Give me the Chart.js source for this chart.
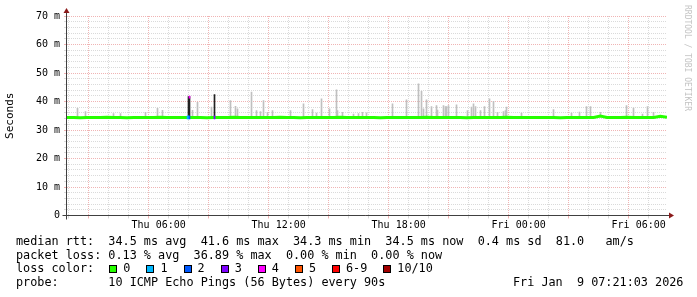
<!DOCTYPE html>
<html><head><meta charset="utf-8">
<script src="https://cdn.jsdelivr.net/npm/chart.js@4.4.1/dist/chart.umd.min.js"></script>
<style>
html,body{margin:0;padding:0;background:#fff;width:697px;height:297px;overflow:hidden;}
#wrap{position:relative;width:697px;height:297px;}
canvas{position:absolute;left:0;top:0;}
.t{position:absolute;left:16px;font-family:'DejaVu Sans Mono',monospace;font-size:11.8px;line-height:14px;white-space:pre;color:#000;}
.box{display:inline-block;width:6px;height:6px;border:1px solid #000;margin:0 6px 0 1px;vertical-align:-1px;}
.lbl{margin-right:15px;}
#rrd{position:absolute;left:692px;top:5px;transform:rotate(90deg);transform-origin:0 0;font-family:'DejaVu Sans Mono',monospace;font-size:8px;line-height:10px;color:#c4c4c4;white-space:pre;}
</style></head>
<body><div id="wrap">
<canvas id="c" width="697" height="297"></canvas>
<div class="t" style="top:234px">median rtt:  34.5 ms avg  41.6 ms max  34.3 ms min  34.5 ms now  0.4 ms sd  81.0   am/s</div>
<div class="t" style="top:247.5px">packet loss: 0.13 % avg  36.89 % max  0.00 % min  0.00 % now</div>
<div class="t" id="losscolor" style="top:261px">loss color:  </div>
<div class="t" style="top:275px">probe:       10 ICMP Echo Pings (56 Bytes) every 90s</div>
<div class="t" style="top:275px;left:513px">Fri Jan  9 07:21:03 2026</div>
<div id="rrd">RRDTOOL / TOBI OETIKER</div>
</div>
<script>
// ---- axis / labels ----
const xMin = 85, xMax = 1885;               // minutes since Thu 00:00
const xLabelTimes = [360, 720, 1080, 1440, 1800];
const xLabelTexts = ['Thu 06:00', 'Thu 12:00', 'Thu 18:00', 'Fri 00:00', 'Fri 06:00'];
const yLabelValues = [0, 10, 20, 30, 40, 50, 60, 70];
const yLabelTexts = ['0', '10 m', '20 m', '30 m', '40 m', '50 m', '60 m', '70 m'];

// ---- loss legend ----
const lossLabels = ['0', '1', '2', '3', '4', '5', '6-9', '10/10'];
const lossColors = ['#26ff00', '#00b8ff', '#0059ff', '#7e00ff', '#ff00ff', '#ff5500', '#ff0000', '#a10000'];

// ---- median rtt (ms), one sample every 20 min from xMin ----
const medianStep = 20;
const medianValues = [
  34.4,34.4,34.3,34.4,34.4,34.4,34.5,34.4,34.4,34.3,
  34.4,34.4,34.4,34.4,34.5,34.4,34.4,34.4,34.4,34.4,
  34.4,34.3,34.4,34.4,34.4,34.5,34.4,34.4,34.4,34.4,
  34.4,34.4,34.5,34.4,34.4,34.3,34.4,34.4,34.4,34.4,
  34.4,34.5,34.4,34.4,34.4,34.4,34.4,34.3,34.4,34.4,
  34.4,34.4,34.4,34.4,34.5,34.4,34.4,34.4,34.4,34.4,
  34.3,34.4,34.4,34.4,34.4,34.4,34.5,34.4,34.4,34.4,
  34.4,34.4,34.4,34.4,34.3,34.4,34.4,34.4,34.4,34.4,
  34.9,34.4,34.4,34.4,34.5,34.4,34.4,34.4,34.4,34.8,
  34.5
];

// ---- smoke (max ping rtt spikes above median) ----
const smokeBase = 34.6;
const smokeTimes = [116.5,140.5,224.5,245.5,320.5,356.5,371.5,461.5,476.5,518.5,
  575.5,590.5,596.5,638.5,653.5,665.5,674.5,686.5,701.5,755.5,
  794.5,821.5,833.5,848.5,872.5,893.5,896.5,911.5,944.5,959.5,
  971.5,983.5,1061.5,1103.5,1139.5,1148.5,1154.5,1163.5,1178.5,1193.5,
  1196.5,1214.5,1220.5,1223.5,1229.5,1253.5,1286.5,1298.5,1304.5,1310.5,
  1325.5,1337.5,1352.5,1364.5,1376.5,1394.5,1400.5,1403.5,1448.5,1544.5,
  1598.5,1622.5,1643.5,1655.5,1685.5,1763.5,1784.5,1811.5,1826.5,1844.5];
const smokeTops = [37.6,36.5,35.8,35.8,36.2,37.6,36.9,36.9,39.7,38.0,
  40.3,38.3,37.4,43.3,36.8,36.5,40.3,36.2,36.8,36.8,
  39.2,37.2,35.9,40.9,37.4,44.1,36.8,36.2,35.6,35.8,
  36.2,36.0,39.2,40.6,46.2,43.6,37.4,40.6,38.2,38.6,
  37.0,38.6,38.2,38.2,38.6,38.8,36.8,38.0,39.2,38.2,
  36.8,38.2,40.9,40.1,36.2,36.5,36.8,38.0,35.9,37.2,
  35.9,36.3,38.2,38.2,36.2,38.6,37.7,35.6,38.2,36.2];

// ---- dark spikes (median jumps with loss) ----
const darkTimes = [449.5, 452.5, 527.5];
const darkTops = [41.7, 41.7, 42.4];

// ---- loss coloured median fragments ----
const lossTimes = [446.5, 449.5, 452.5, 452.5, 527.5];
const lossLows  = [33.9, 33.9, 33.9, 41.2, 33.9];
const lossHighs = [34.9, 35.0, 34.9, 41.9, 35.0];
const lossLevels = [1, 1, 2, 4, 3];

// build loss legend
const lc = document.getElementById('losscolor');
lossLabels.forEach((l, i) => {
  const b = document.createElement('span'); b.className = 'box'; b.style.background = lossColors[i]; lc.appendChild(b);
  const s = document.createElement('span'); s.className = 'lbl'; s.textContent = l; lc.appendChild(s);
});

const MINOR = '#dadada', MAJOR = '#f0b4b4';
const hourTicks = []; for (let t = 120; t <= 1860; t += 60) hourTicks.push(t);
const yTicks = []; for (let v = 0; v <= 70; v += 2) yTicks.push(v);

const axisPlugin = {
  id: 'rrdAxes',
  afterDatasetsDraw(chart) {
    const {ctx, chartArea: a} = chart;
    const yb = Math.round(a.bottom - 0.5) + 0.5;
    const xl = Math.round(a.left) - 0.5;
    ctx.save();
    ctx.strokeStyle = '#404040'; ctx.lineWidth = 1;
    ctx.beginPath();
    ctx.moveTo(xl - 4, yb); ctx.lineTo(a.right + 2, yb);
    ctx.moveTo(xl, yb + 4); ctx.lineTo(xl, a.top - 3);
    ctx.stroke();
    ctx.fillStyle = '#8b1a1a';
    ctx.beginPath();
    ctx.moveTo(a.right + 2, yb - 3); ctx.lineTo(a.right + 7, yb); ctx.lineTo(a.right + 2, yb + 3); ctx.closePath(); ctx.fill();
    ctx.beginPath();
    ctx.moveTo(xl - 3, a.top - 3); ctx.lineTo(xl, a.top - 8); ctx.lineTo(xl + 3, a.top - 3); ctx.closePath(); ctx.fill();
    ctx.restore();
  }
};

new Chart(document.getElementById('c'), {
  type: 'line',
  data: {
    datasets: [
      {
        type: 'bar', order: 4, stack: 's',
        data: smokeTimes.map((t, i) => ({x: t, y: [smokeBase, smokeTops[i]]})),
        backgroundColor: '#c0c0c0', borderWidth: 0, barThickness: 1
      },
      {
        type: 'bar', order: 3, stack: 's',
        data: darkTimes.map((t, i) => ({x: t, y: [smokeBase, darkTops[i]]})),
        backgroundColor: '#222222', borderWidth: 0, barThickness: 1
      },
      {
        type: 'line', order: 2,
        data: medianValues.map((v, i) => ({x: xMin + i * medianStep, y: v})),
        borderColor: lossColors[0], borderWidth: 3, pointRadius: 0, tension: 0, fill: false
      },
      {
        type: 'bar', order: 1, stack: 's',
        data: lossTimes.map((t, i) => ({x: t, y: [lossLows[i], lossHighs[i]]})),
        backgroundColor: lossLevels.map(l => lossColors[l]), borderWidth: 0, barThickness: 1
      }
    ]
  },
  options: {
    responsive: false, animation: false, devicePixelRatio: 1,
    layout: {padding: {top: 16, right: 30, bottom: 61.5, left: 0}},
    plugins: {legend: {display: false}, tooltip: {enabled: false}},
    scales: {
      x: {
        type: 'linear', min: xMin, max: xMax, offset: false,
        afterBuildTicks: s => { s.ticks = hourTicks.map(v => ({value: v})); },
        afterFit: s => { s.height = 20; },
        grid: {
          color: c => (c.tick && c.tick.value % 180 === 0) ? MAJOR : MINOR,
          tickLength: 3, lineWidth: 1
        },
        border: {display: false, dash: [1, 1]},
        ticks: {
          autoSkip: false, maxRotation: 0, minRotation: 0, padding: 1,
          font: {family: 'DejaVu Sans Mono', size: 10}, color: '#000',
          callback: v => { const k = xLabelTimes.indexOf(v); return k >= 0 ? xLabelTexts[k] : ''; }
        }
      },
      y: {
        type: 'linear', min: 0, max: 70, stacked: false,
        afterBuildTicks: s => { s.ticks = yTicks.map(v => ({value: v})); },
        afterFit: s => { s.width = 67; },
        grid: {
          color: c => (c.tick && c.tick.value % 10 === 0) ? MAJOR : MINOR,
          tickLength: 3, lineWidth: 1
        },
        border: {display: false, dash: [1, 1]},
        title: {display: true, text: 'Seconds', color: '#000', font: {family: 'DejaVu Sans Mono', size: 11}},
        ticks: {
          autoSkip: false, padding: 4,
          font: {family: 'DejaVu Sans Mono', size: 10}, color: '#000',
          callback: v => { const k = yLabelValues.indexOf(v); return k >= 0 ? yLabelTexts[k] : ''; }
        }
      }
    }
  },
  plugins: [axisPlugin]
});
</script>
</body></html>
